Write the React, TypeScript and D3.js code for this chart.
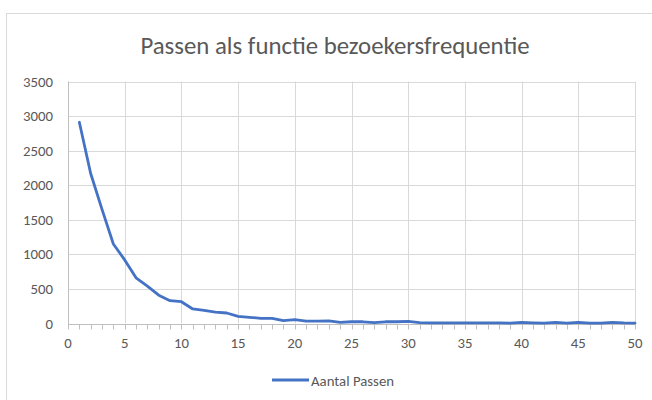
import { useEffect, useRef } from "react";
import * as d3 from "d3";

const title = "Passen als functie bezoekersfrequentie";
const seriesName = "Aantal Passen";

// bezoekersfrequentie 1..50
const frequency = d3.range(1, 51);
const passen = [
  2910, 2170, 1650, 1150, 920, 660, 540, 410, 330, 315,
  210, 190, 166, 152, 104, 90, 75, 75, 41, 55,
  35, 35, 38, 17, 25, 25, 12, 25, 25, 32,
  12, 10, 10, 10, 10, 10, 10, 10, 5, 15,
  10, 5, 15, 5, 15, 5, 5, 15, 8, 5,
];

const yTicks = [0, 500, 1000, 1500, 2000, 2500, 3000, 3500];
const xTicks = [0, 5, 10, 15, 20, 25, 30, 35, 40, 45, 50];

const W = 652;
const H = 400;
const textColor = "#595959";
const font = "Calibri, 'Open Sans', 'Noto Sans', sans-serif";

export default function App() {
  const svgRef = useRef<SVGSVGElement>(null);

  useEffect(() => {
    if (!svgRef.current) return;
    const svg = d3.select(svgRef.current);
    svg.selectAll("*").remove();

    const margin = { top: 81.5, right: 17, bottom: 76.5, left: 68 };
    const x = d3.scaleLinear().domain([0, 50]).range([margin.left, W - margin.right]);
    const y = d3.scaleLinear().domain([0, 3500]).range([H - margin.bottom, margin.top]);

    // chart frame
    svg.append("rect")
      .attr("x", 6.5).attr("y", 13.5)
      .attr("width", 700).attr("height", 500)
      .attr("fill", "#fff").attr("stroke", "#d9d9d9");

    svg.append("text")
      .attr("x", 335).attr("y", 53.5)
      .attr("text-anchor", "middle")
      .attr("font-family", font).attr("font-size", 24.8)
      .attr("fill", textColor)
      .text(title);

    // gridlines
    svg.append("g").selectAll("line.h")
      .data(yTicks.slice(1))
      .join("line")
      .attr("x1", x(0)).attr("x2", x(50))
      .attr("y1", (d) => Math.round(y(d)) + 0.5).attr("y2", (d) => Math.round(y(d)) + 0.5)
      .attr("stroke", "#d9d9d9");

    svg.append("g").selectAll("line.v")
      .data(xTicks.slice(1))
      .join("line")
      .attr("x1", (d) => Math.round(x(d)) + 0.5).attr("x2", (d) => Math.round(x(d)) + 0.5)
      .attr("y1", y(0)).attr("y2", y(3500))
      .attr("stroke", "#d9d9d9");

    // axes
    const y0 = Math.round(y(0)) + 0.5;
    svg.append("line")
      .attr("x1", x(0)).attr("x2", x(50))
      .attr("y1", y0).attr("y2", y0)
      .attr("stroke", "#bfbfbf");
    svg.append("line")
      .attr("x1", Math.round(x(0)) + 0.5).attr("x2", Math.round(x(0)) + 0.5)
      .attr("y1", y(3500)).attr("y2", y0 + 5)
      .attr("stroke", "#bfbfbf");

    svg.append("g").selectAll("line")
      .data(d3.range(1, 51))
      .join("line")
      .attr("x1", (d) => Math.round(x(d)) + 0.5).attr("x2", (d) => Math.round(x(d)) + 0.5)
      .attr("y1", y0).attr("y2", y0 + 5)
      .attr("stroke", "#bfbfbf");

    svg.append("g").selectAll("text")
      .data(yTicks)
      .join("text")
      .attr("x", 53).attr("y", (d) => y(d) + 5)
      .attr("text-anchor", "end")
      .attr("font-family", font).attr("font-size", 14.8)
      .attr("fill", textColor)
      .text((d) => d);

    svg.append("g").selectAll("text")
      .data(xTicks)
      .join("text")
      .attr("x", (d) => x(d)).attr("y", y0 + 23)
      .attr("text-anchor", "middle")
      .attr("font-family", font).attr("font-size", 14.8)
      .attr("fill", textColor)
      .text((d) => d);

    const line = d3.line<number>()
      .x((_, i) => x(frequency[i]))
      .y((d) => y(d));

    svg.append("path")
      .datum(passen)
      .attr("d", line)
      .attr("fill", "none")
      .attr("stroke", "#4472c4")
      .attr("stroke-width", 2.8)
      .attr("stroke-linejoin", "round")
      .attr("stroke-linecap", "round");

    // legend
    svg.append("line")
      .attr("x1", 272).attr("x2", 309)
      .attr("y1", 380).attr("y2", 380)
      .attr("stroke", "#4472c4").attr("stroke-width", 2.8);
    svg.append("text")
      .attr("x", 311).attr("y", 385.5)
      .attr("font-family", font).attr("font-size", 14.8)
      .attr("fill", textColor)
      .text(seriesName);
  }, []);

  return (
    <div style={{ position: "fixed", left: 0, top: 0, background: "#fff" }}>
      <svg ref={svgRef} width={W} height={H} style={{ display: "block" }} />
    </div>
  );
}
